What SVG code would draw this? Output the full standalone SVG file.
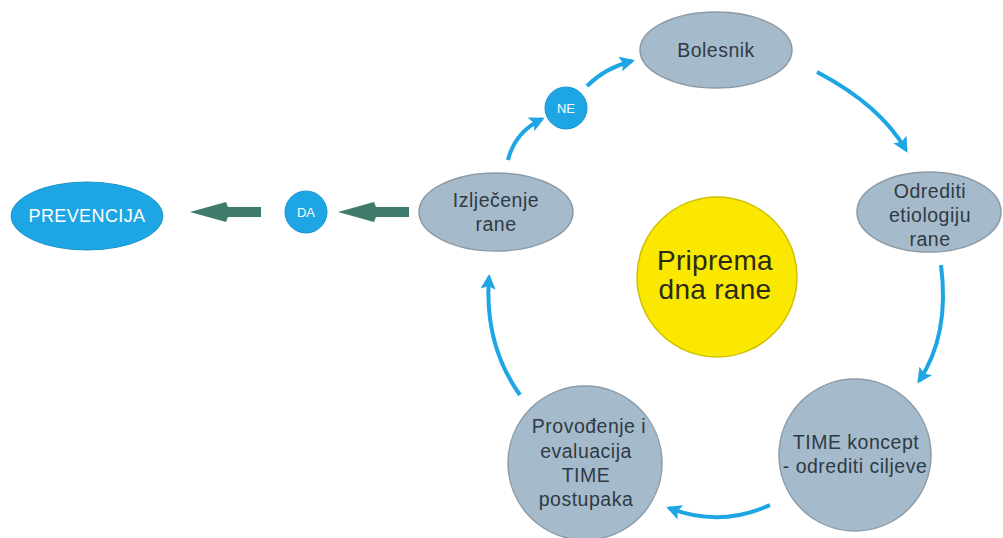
<svg xmlns="http://www.w3.org/2000/svg" width="1003" height="538" viewBox="0 0 1003 538">
<style>
.g{fill:#a5bbcb;stroke:#8c9aa6;stroke-width:1.5}
.b{fill:#1ea6e4;stroke:#1a95cc;stroke-width:1}
.y{fill:#fbe800;stroke:#cfc000;stroke-width:1.5}
.t{font-family:"Liberation Sans",Arial,sans-serif;font-size:19.5px;fill:#2f3a44;text-anchor:middle;letter-spacing:0.5px}
.w{font-family:"Liberation Sans",Arial,sans-serif;fill:#ffffff;text-anchor:middle}
.big{font-family:"Liberation Sans",Arial,sans-serif;font-size:28px;fill:#2a2a1a;text-anchor:middle;letter-spacing:0.3px}
.c{fill:none;stroke:#1ea6e4;stroke-width:4;marker-end:url(#ah)}
.gr{fill:#3e7b6c}
</style>
<defs>
<marker id="ah" viewBox="0 0 10 10" refX="8" refY="5" markerWidth="3.8" markerHeight="3.8" orient="auto" markerUnits="strokeWidth">
<path d="M0,0 L10,5 L0,10 L2,5 Z" fill="#1ea6e4"/>
</marker>
</defs>
<rect width="1003" height="538" fill="#ffffff"/>
<g id="connectors">
<path class="c" d="M508,160 Q515,132 542,119"/>
<path class="c" d="M587,86 Q605,68 632,61"/>
<path class="c" d="M817,72 Q880,105 906,150"/>
<path class="c" d="M941,265 Q950,335 919,381"/>
<path class="c" d="M770,505 Q720,528 669,508"/>
<path class="c" d="M520,395 Q484,345 489,277"/>
<polygon class="gr" points="261,207 228,207 226,202 190,212 226,222 228,217 261,217"/>
<polygon class="gr" points="409,207 376,207 374,202 338,212 374,222 376,217 409,217"/>
</g>
<g id="bolesnik">
<ellipse class="g" cx="716" cy="50" rx="76" ry="38"/>
<text class="t" x="716" y="57">Bolesnik</text>
</g>
<g id="ne">
<circle class="b" cx="566" cy="108" r="21"/>
<text class="w" x="566" y="113" font-size="13">NE</text>
</g>
<g id="izljecenje">
<ellipse class="g" cx="496" cy="212" rx="77" ry="39"/>
<text class="t" x="496" y="207">Izlječenje</text>
<text class="t" x="496" y="231">rane</text>
</g>
<g id="da">
<circle class="b" cx="306" cy="212" r="21"/>
<text class="w" x="306" y="217" font-size="13">DA</text>
</g>
<g id="prevencija">
<ellipse class="b" cx="87" cy="216" rx="76" ry="34"/>
<text class="w" x="87" y="222" font-size="18" letter-spacing="0.4">PREVENCIJA</text>
</g>
<g id="odrediti">
<ellipse class="g" cx="929" cy="212" rx="72" ry="40"/>
<text class="t" x="930" y="198">Odrediti</text>
<text class="t" x="930" y="222">etiologiju</text>
<text class="t" x="930" y="246">rane</text>
</g>
<g id="priprema">
<circle class="y" cx="717" cy="277" r="80"/>
<text class="big" x="715" y="270">Priprema</text>
<text class="big" x="715" y="299">dna rane</text>
</g>
<g id="time">
<circle class="g" cx="855" cy="455" r="76"/>
<text class="t" x="856" y="449">TIME koncept</text>
<text class="t" x="855" y="473">- odrediti ciljeve</text>
</g>
<g id="provodenje">
<circle class="g" cx="585" cy="463" r="77"/>
<text class="t" x="589" y="433">Provođenje i</text>
<text class="t" x="586" y="458">evaluacija</text>
<text class="t" x="586" y="482">TIME</text>
<text class="t" x="586" y="506">postupaka</text>
</g>
</svg>
